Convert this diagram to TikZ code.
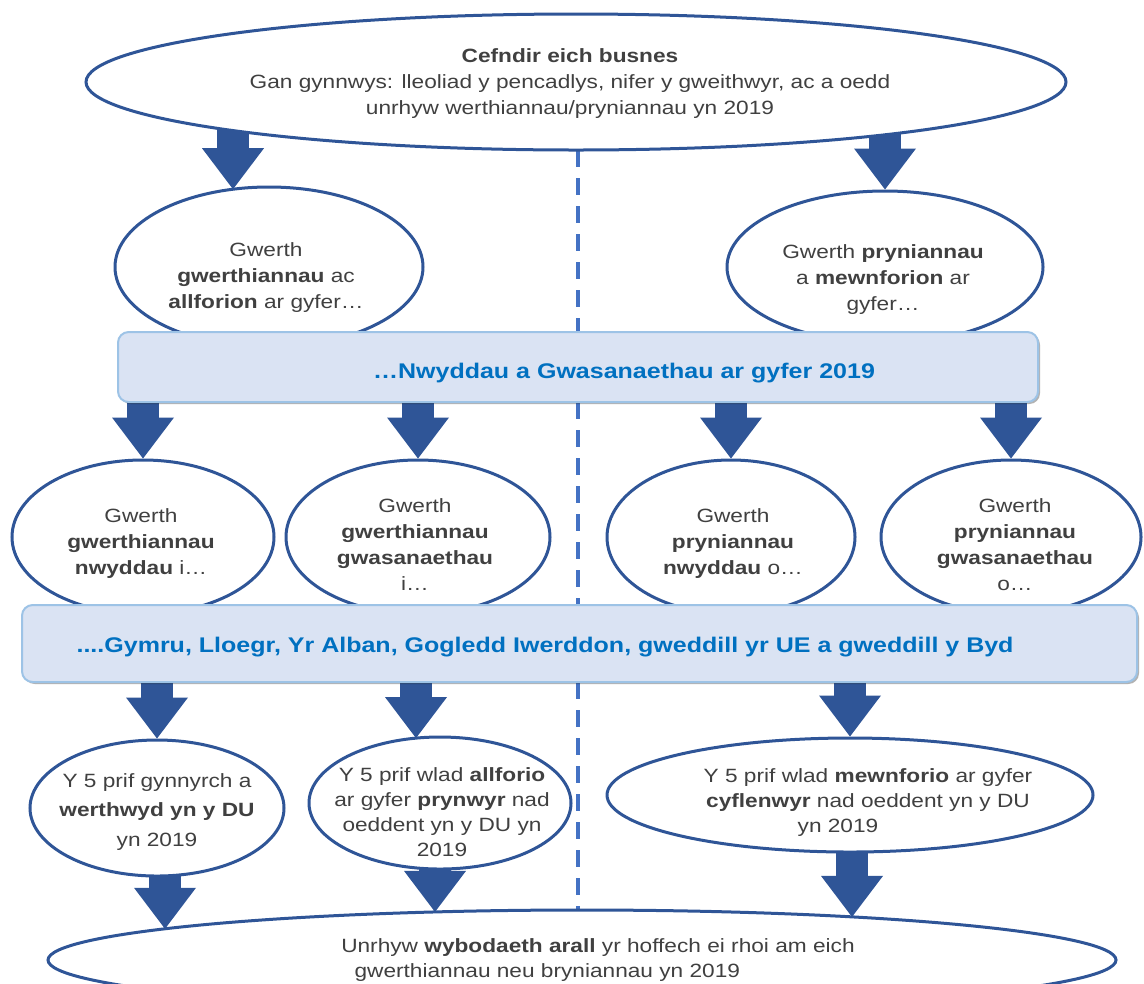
\documentclass[tikz,border=0pt]{standalone}
\usepackage{fontspec}
\setmainfont{Liberation Sans}[FakeStretch=1.18]
\usetikzlibrary{shapes.geometric,arrows.meta,calc,shadows}
\definecolor{dblue}{HTML}{2F5597}
\definecolor{dashc}{HTML}{4472C4}
\definecolor{barfill}{HTML}{DAE3F3}
\definecolor{barline}{HTML}{9DC3E6}
\definecolor{bartext}{HTML}{0070C0}
\definecolor{txtgray}{HTML}{404040}
\pgfdeclarelayer{bg}
\pgfsetlayers{bg,main}
\begin{document}
\begin{tikzpicture}[x=0.75pt,y=-0.75pt,
  oval/.style 2 args={ellipse,draw=dblue,fill=white,line width=2.25pt,inner sep=0pt,
    minimum width=#1*1.5pt,minimum height=#2*1.5pt},
  txt/.style={text=txtgray,align=center,inner sep=0pt,font=\fontsize{14.4}{19.5}\selectfont},
  barbox/.style 2 args={draw=barline,line width=1.5pt,fill=barfill,rounded corners=8pt,
    minimum width=#1*0.75pt,minimum height=#2*0.75pt,inner sep=0pt,
    drop shadow={shadow xshift=1.5pt,shadow yshift=-1.5pt,opacity=0.3,fill=black}},
  bartxt/.style={text=bartext,inner sep=0pt,font=\bfseries\fontsize{15.9}{19}\selectfont},
  bigarrow/.style={draw=dblue,line width=24pt,-{Triangle[width=46.5pt,length=30.75pt,line width=0pt]}},
  sepline/.style={draw=dashc,line width=3pt,dash pattern=on 12.75pt off 8.25pt}]

\useasboundingbox (0,0) rectangle (1144,983);
\clip (0,0) rectangle (1144,983);

% top
\node[oval={490}{68}] (T) at (576,82) {};
\node[txt] (Tt) at (570,84) {\textbf{Cefndir eich busnes}\\Gan gynnwys: lleoliad y pencadlys, nifer y gweithwyr, ac a oedd\\unrhyw werthiannau/pryniannau yn 2019};

% first row
\node[oval={154}{80}] (L1) at (269,267) {};
\node[txt] (L1t) at (266,278) {Gwerth\\\textbf{gwerthiannau} ac\\\textbf{allforion} ar gyfer…};
\node[oval={158}{76}] (R1) at (885,267) {};
\node[txt] (R1t) at (883,280) {Gwerth \textbf{pryniannau}\\a \textbf{mewnforion} ar\\gyfer…};

\node[barbox={920}{70}] (bar1) at (578,367) {};
\node[bartxt] (bar1t) at (624,373) {…Nwyddau a Gwasanaethau ar gyfer 2019};

% second row
\node[oval={131}{77}] (E1) at (143,537) {};
\node[txt] (E1t) at (141,544) {Gwerth\\\textbf{gwerthiannau}\\\textbf{nwyddau} i…};
\node[oval={132}{77}] (E2) at (418,537) {};
\node[txt] (E2t) at (415,545) {Gwerth\\\textbf{gwerthiannau}\\\textbf{gwasanaethau}\\i…};
\node[oval={124}{77}] (E3) at (731,537) {};
\node[txt] (E3t) at (733,544) {Gwerth\\\textbf{pryniannau}\\\textbf{nwyddau} o…};
\node[oval={130}{77}] (E4) at (1011,537) {};
\node[txt] (E4t) at (1015,545) {Gwerth\\\textbf{pryniannau}\\\textbf{gwasanaethau}\\o…};

\node[barbox={1115}{77}] (bar2) at (579.5,643.5) {};
\node[bartxt] (bar2t) at (545,647) {....Gymru, Lloegr, Yr Alban, Gogledd Iwerddon, gweddill yr UE a gweddill y Byd};

% third row
\node[oval={127}{68}] (F1) at (157,808) {};
\node[txt,font=\fontsize{14.4}{22}\selectfont] (F1t) at (157,812) {Y 5 prif gynnyrch a\\\textbf{werthwyd yn y DU}\\yn 2019};
\node[oval={131}{66}] (F2) at (440,803) {};
\node[txt,font=\fontsize{14.4}{18.75}\selectfont] (F2t) at (442,812) {Y 5 prif wlad \textbf{allforio}\\ar gyfer \textbf{prynwyr} nad\\oeddent yn y DU yn\\2019};
\node[oval={243}{57}] (F3) at (850,795) {};
\node[txt,font=\fontsize{14.4}{18.75}\selectfont] (F3t) at (868,803) {Y 5 prif wlad \textbf{mewnforio} ar gyfer\\\textbf{cyflenwyr} nad oeddent yn y DU\\yn 2019\rule{45pt}{0pt}};

% bottom
\node[oval={534}{50}] (B) at (582,960) {};
\node[txt,align=left,anchor=west,font=\fontsize{14.4}{18.75}\selectfont] (Bt) at (341,960) {Unrhyw \textbf{wybodaeth arall} yr hoffech ei rhoi am eich\\\hspace*{10pt}gwerthiannau neu bryniannau yn 2019};

% tip coordinates on ellipse borders
\coordinate (l1tip) at ($(L1.center)+(-36,-77.8)$);
\coordinate (f2tip) at ($(F2.center)+(-24,-64.9)$);
\coordinate (b1) at ($(B.center)+(-417,-31.2)$);
\coordinate (b2) at ($(B.center)+(-147,-48.1)$);
\coordinate (b3) at ($(B.center)+(270,-43.1)$);
\coordinate (dtop) at (578,150);
\coordinate (dbot) at (578,918);

\begin{pgfonlayer}{bg}
  \draw[sepline] (dtop) -- (dbot);
  \draw[bigarrow] (l1tip |- T.center) -- (l1tip);
  \draw[bigarrow] (R1.north |- T.center) -- (R1.north);
  \draw[bigarrow] (E1.north |- bar1.center) -- (E1.north);
  \draw[bigarrow] (E2.north |- bar1.center) -- (E2.north);
  \draw[bigarrow] (E3.north |- bar1.center) -- (E3.north);
  \draw[bigarrow] (E4.north |- bar1.center) -- (E4.north);
  \draw[bigarrow] (F1.north |- bar2.center) -- (F1.north);
  \draw[bigarrow] (f2tip |- bar2.center) -- (f2tip);
  \draw[bigarrow] (F3.north |- bar2.center) -- (F3.north);
  \draw[bigarrow] (b1 |- F1.center) -- (b1);
  \draw[bigarrow] (b2 |- F2.center) -- (b2);
  \draw[bigarrow] (b3 |- F3.center) -- (b3);
\end{pgfonlayer}
\end{tikzpicture}
\end{document}
